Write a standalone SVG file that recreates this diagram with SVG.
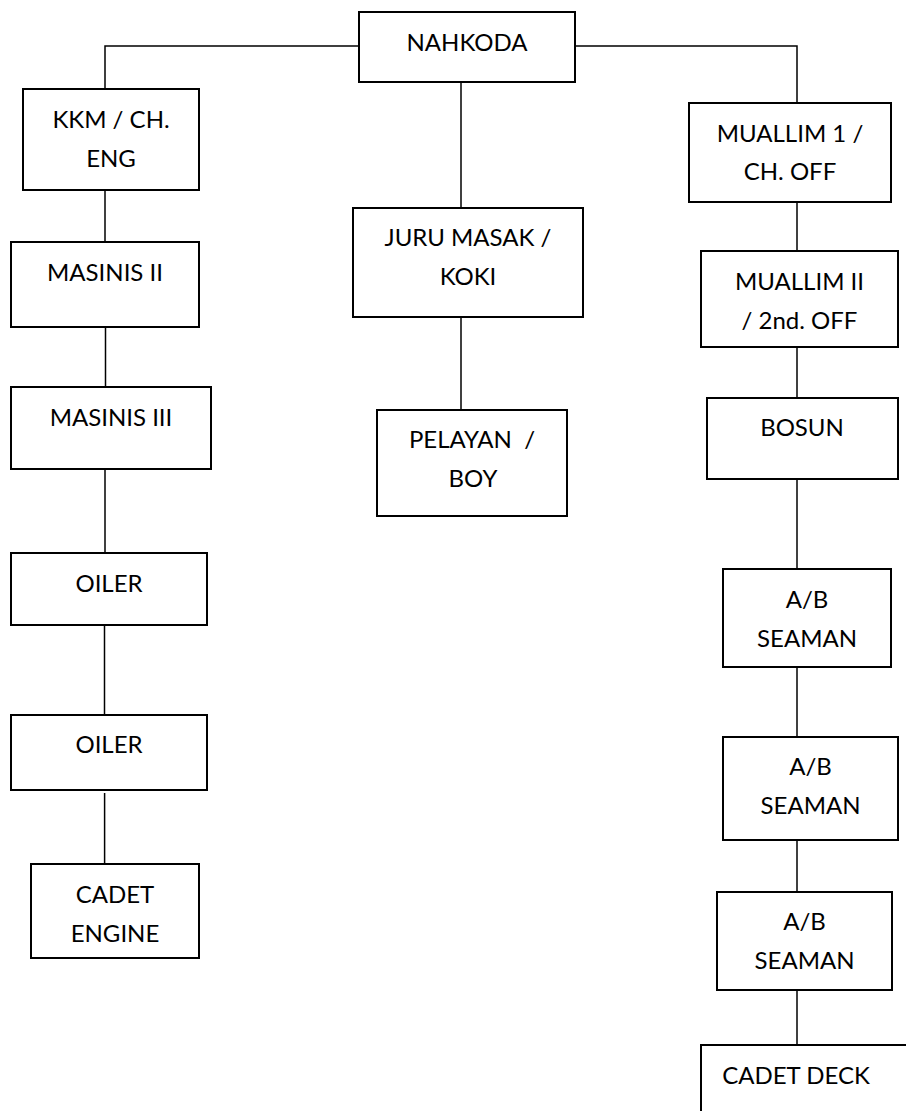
<svg xmlns="http://www.w3.org/2000/svg" width="906" height="1111" viewBox="0 0 906 1111">
<style>
.box{fill:#fff;stroke:#000;stroke-width:2}
.ln{fill:none;stroke:#000;stroke-width:1.5}
text{font-family:Lato,"Open Sans","Liberation Sans",sans-serif;font-size:24px;fill:#000;text-anchor:middle}
</style>
<rect width="906" height="1111" fill="#fff"/>
<g id="connectors">
<polyline class="ln" points="105,89 105,46 359,46"/>
<polyline class="ln" points="575,46 797,46 797,108"/>
<line class="ln" x1="461" y1="82" x2="461" y2="208"/>
<line class="ln" x1="461" y1="312" x2="461" y2="421"/>
<line class="ln" x1="105" y1="184" x2="105" y2="242"/>
<line class="ln" x1="105.5" y1="327" x2="105.5" y2="387"/>
<line class="ln" x1="105" y1="469" x2="105" y2="553"/>
<line class="ln" x1="104.5" y1="625" x2="104.5" y2="715"/>
<line class="ln" x1="104.6" y1="793" x2="104.6" y2="864"/>
<line class="ln" x1="797" y1="197" x2="797" y2="251"/>
<line class="ln" x1="797" y1="347" x2="797" y2="398"/>
<line class="ln" x1="797" y1="479" x2="797" y2="569"/>
<line class="ln" x1="797" y1="667" x2="797" y2="737"/>
<line class="ln" x1="797" y1="840" x2="797" y2="892"/>
<line class="ln" x1="797" y1="990" x2="797" y2="1045"/>
</g>
<g id="nahkoda"><rect class="box" x="359" y="12" width="216" height="70"/><text x="467" y="51">NAHKODA</text></g>
<g id="kkm"><rect class="box" x="23" y="89" width="176" height="101"/><text x="111" y="127.5">KKM / CH.</text><text x="111" y="166.5">ENG</text></g>
<g id="muallim1"><rect class="box" x="689" y="103" width="202" height="99"/><text x="790" y="141.7">MUALLIM 1 /</text><text x="790" y="180">CH. OFF</text></g>
<g id="juru-masak"><rect class="box" x="353" y="208" width="230" height="109"/><text x="468" y="246">JURU MASAK /</text><text x="468" y="284.5">KOKI</text></g>
<g id="masinis2"><rect class="box" x="11" y="242" width="188" height="85"/><text x="105" y="280.7">MASINIS II</text></g>
<g id="muallim2"><rect class="box" x="701" y="251" width="197" height="96"/><text x="799.5" y="290">MUALLIM II</text><text x="799.5" y="329">/ 2nd. OFF</text></g>
<g id="masinis3"><rect class="box" x="11" y="387" width="200" height="82"/><text x="111" y="425.7">MASINIS III</text></g>
<g id="bosun"><rect class="box" x="707" y="398" width="191" height="81"/><text x="802" y="435.7">BOSUN</text></g>
<g id="pelayan"><rect class="box" x="377" y="410" width="190" height="106"/><text x="472" y="448" xml:space="preserve">PELAYAN  /</text><text x="473" y="487">BOY</text></g>
<g id="oiler1"><rect class="box" x="11" y="553" width="196" height="72"/><text x="109" y="591.5">OILER</text></g>
<g id="ab1"><rect class="box" x="723" y="569" width="168" height="98"/><text x="807" y="608.3">A/B</text><text x="807" y="646.7">SEAMAN</text></g>
<g id="oiler2"><rect class="box" x="11" y="715" width="196" height="75"/><text x="109" y="753.3">OILER</text></g>
<g id="ab2"><rect class="box" x="723" y="737" width="175" height="103"/><text x="810.5" y="775">A/B</text><text x="810.5" y="814">SEAMAN</text></g>
<g id="cadet-engine"><rect class="box" x="31" y="864" width="168" height="94"/><text x="115" y="902.7">CADET</text><text x="115" y="941.7">ENGINE</text></g>
<g id="ab3"><rect class="box" x="717" y="892" width="175" height="98"/><text x="804.5" y="930">A/B</text><text x="804.5" y="969.3">SEAMAN</text></g>
<g id="cadet-deck"><rect class="box" x="701" y="1045" width="230" height="120"/><text x="796" y="1084">CADET DECK</text></g>
</svg>
